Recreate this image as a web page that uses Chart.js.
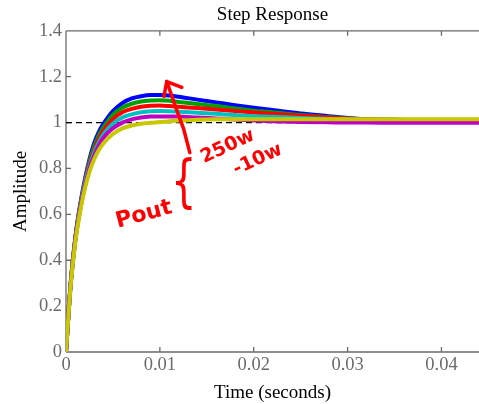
<!DOCTYPE html>
<html>
<head>
<meta charset="utf-8">
<script src="https://cdn.jsdelivr.net/npm/chart.js@4/dist/chart.umd.min.js"></script>
<style>
html,body{margin:0;padding:0;background:#fff;}
#wrap{width:479px;height:404px;position:relative;}
</style>
</head>
<body>
<div id="wrap"><canvas id="c" width="479" height="404"></canvas></div>
<script>
// ---- data ----
const time = [0, 0.0005, 0.001, 0.0015, 0.002, 0.0025, 0.003, 0.0035, 0.004, 0.005, 0.006, 0.007, 0.008, 0.009, 0.010, 0.011, 0.012, 0.014, 0.016, 0.018, 0.020, 0.022, 0.025, 0.028, 0.030, 0.032, 0.035, 0.040, 0.044];
const blueResp    = [0, 0.30, 0.50, 0.64, 0.75, 0.84, 0.91, 0.96, 0.995, 1.05, 1.085, 1.105, 1.115, 1.12, 1.12, 1.118, 1.113, 1.10, 1.088, 1.076, 1.065, 1.055, 1.04, 1.028, 1.02, 1.015, 1.012, 1.01, 1.01];
const greenResp   = [0, 0.30, 0.50, 0.635, 0.74, 0.83, 0.895, 0.945, 0.98, 1.035, 1.065, 1.082, 1.092, 1.096, 1.097, 1.095, 1.09, 1.081, 1.072, 1.061, 1.052, 1.045, 1.033, 1.024, 1.018, 1.014, 1.012, 1.01, 1.01];
const redResp     = [0, 0.30, 0.495, 0.63, 0.735, 0.82, 0.88, 0.93, 0.965, 1.015, 1.045, 1.06, 1.069, 1.073, 1.074, 1.072, 1.069, 1.063, 1.057, 1.05, 1.044, 1.038, 1.03, 1.022, 1.018, 1.014, 1.012, 1.01, 1.01];
const cyanResp    = [0, 0.295, 0.49, 0.625, 0.73, 0.81, 0.87, 0.915, 0.95, 0.995, 1.022, 1.036, 1.045, 1.049, 1.05, 1.049, 1.047, 1.043, 1.038, 1.033, 1.028, 1.025, 1.02, 1.016, 1.014, 1.012, 1.011, 1.01, 1.01];
const magentaResp = [0, 0.295, 0.49, 0.62, 0.72, 0.80, 0.855, 0.90, 0.935, 0.975, 1.0, 1.014, 1.022, 1.026, 1.027, 1.027, 1.026, 1.022, 1.018, 1.013, 1.009, 1.006, 1.003, 1.001, 1.0, 1.0, 0.999, 0.999, 0.999];
const yellowResp  = [0, 0.29, 0.48, 0.61, 0.71, 0.785, 0.84, 0.88, 0.91, 0.95, 0.975, 0.987, 0.995, 0.999, 1.002, 1.006, 1.009, 1.012, 1.014, 1.015, 1.015, 1.015, 1.015, 1.015, 1.015, 1.015, 1.015, 1.015, 1.015];
const steadyX = [0, 0.044];
const steadyY = [1, 1];
const xTicks = [0, 0.01, 0.02, 0.03, 0.04];
const xTickLabels = ['0', '0.01', '0.02', '0.03', '0.04'];
const yTicks = [0, 0.2, 0.4, 0.6, 0.8, 1, 1.2, 1.4];
const yTickLabels = ['0', '0.2', '0.4', '0.6', '0.8', '1', '1.2', '1.4'];
const titleText = 'Step Response';
const xTitle = 'Time (seconds)';
const yTitle = 'Amplitude';
// hand-written annotation (data units)
const arrowShaftX = [0.01319, 0.01255, 0.01170, 0.01074];
const arrowShaftY = [0.869, 0.970, 1.065, 1.179];
const arrowBarbX = [0.01043, 0.01074, 0.01234];
const arrowBarbY = [1.114, 1.179, 1.153];
const noteTexts = ['250w', '-10w', 'Pout', '{'];
const noteX = [0.01723, 0.02043, 0.0083, 0.01255];
const noteY = [0.895, 0.838, 0.598, 0.725];

const pts = (xs, ys) => xs.map((x, i) => ({x: x, y: ys[i]}));
const serif = "'Liberation Serif', 'Times New Roman', serif";
const AXIS_COLOR = '#6a6a6a';

function curve(label, ys, color, order) {
  return {label, data: pts(time, ys), borderColor: color, backgroundColor: color,
    borderWidth: 4, pointRadius: 0, cubicInterpolationMode: 'monotone', fill: false, order};
}

const axesPlugin = {
  id: 'matlabAxes',
  beforeDatasetsDraw(chart) {
    const {ctx, chartArea: a, scales: {x, y}} = chart;
    ctx.save();
    ctx.strokeStyle = AXIS_COLOR;
    ctx.lineWidth = 1.3;
    ctx.beginPath();
    ctx.moveTo(a.left, a.top); ctx.lineTo(a.right + 1, a.top);
    ctx.moveTo(a.left, a.top); ctx.lineTo(a.left, a.bottom);
    ctx.moveTo(a.left, a.bottom); ctx.lineTo(a.right + 1, a.bottom);
    const tl = 5;
    xTicks.forEach(v => {
      const px = x.getPixelForValue(v);
      ctx.moveTo(px, a.bottom); ctx.lineTo(px, a.bottom - tl);
      ctx.moveTo(px, a.top); ctx.lineTo(px, a.top + tl);
    });
    yTicks.forEach(v => {
      const py = y.getPixelForValue(v);
      ctx.moveTo(a.left, py); ctx.lineTo(a.left + tl, py);
    });
    ctx.stroke();
    ctx.restore();
  },
  afterDraw(chart) {
    const {ctx, scales: {x, y}} = chart;
    ctx.save();
    ctx.strokeStyle = '#ff0000';
    ctx.fillStyle = '#ff0000';
    ctx.lineWidth = 3.5;
    ctx.lineCap = 'round';
    ctx.lineJoin = 'round';
    ctx.beginPath();
    arrowShaftX.forEach((v, i) => {
      const px = x.getPixelForValue(v), py = y.getPixelForValue(arrowShaftY[i]);
      if (i === 0) ctx.moveTo(px, py); else ctx.lineTo(px, py);
    });
    ctx.stroke();
    ctx.beginPath();
    arrowBarbX.forEach((v, i) => {
      const px = x.getPixelForValue(v), py = y.getPixelForValue(arrowBarbY[i]);
      if (i === 0) ctx.moveTo(px, py); else ctx.lineTo(px, py);
    });
    ctx.stroke();
    const fonts = ["bold 19px 'DejaVu Sans'", "bold 19px 'DejaVu Sans'", "bold 22px 'DejaVu Sans'", "40px 'DejaVu Sans'"];
    const rots = [-25, -25, -15, 0];
    const scaleY = [1, 1, 1, 1.4];
    noteTexts.forEach((t, i) => {
      ctx.save();
      ctx.translate(x.getPixelForValue(noteX[i]), y.getPixelForValue(noteY[i]));
      ctx.rotate(rots[i] * Math.PI / 180);
      ctx.scale(1, scaleY[i]);
      ctx.font = fonts[i];
      ctx.textAlign = 'center';
      ctx.textBaseline = 'middle';
      ctx.fillText(t, 0, 0);
      ctx.restore();
    });
    ctx.restore();
  }
};

new Chart(document.getElementById('c'), {
  type: 'line',
  data: {
    datasets: [
      {label: 'steady', data: pts(steadyX, steadyY), borderColor: '#000', borderWidth: 1.3,
        borderDash: [6, 4], pointRadius: 0, fill: false, order: 10},
      curve('b', blueResp, '#0000ff', 6),
      curve('g', greenResp, '#00a000', 5),
      curve('r', redResp, '#ff0000', 4),
      curve('c', cyanResp, '#00c0c0', 3),
      curve('m', magentaResp, '#c000c0', 2),
      curve('y', yellowResp, '#c8c800', 1)
    ]
  },
  options: {
    responsive: false,
    animation: false,
    layout: {padding: {left: 0, right: 0, top: 0, bottom: 0}},
    plugins: {
      legend: {display: false},
      tooltip: {enabled: false},
      title: {display: true, text: titleText, fullSize: false, color: '#000',
        font: {family: serif, size: 19, weight: 'normal'}, padding: {top: 4, bottom: 4}}
    },
    scales: {
      x: {
        type: 'linear', min: 0, max: 0.044,
        afterBuildTicks: s => { s.ticks = xTicks.map(v => ({value: v})); },
        afterFit: s => { s.height = 52; },
        grid: {display: false, drawTicks: false},
        border: {display: false},
        ticks: {color: AXIS_COLOR, font: {family: serif, size: 18.5}, padding: 2, maxRotation: 0,
          autoSkip: false, callback: (v, i) => xTickLabels[i]},
        title: {display: true, text: xTitle, color: '#000', font: {family: serif, size: 19},
          padding: {top: 2, bottom: 0}}
      },
      y: {
        type: 'linear', min: 0, max: 1.4,
        afterBuildTicks: s => { s.ticks = yTicks.map(v => ({value: v})); },
        afterFit: s => { s.width = 66; },
        grid: {display: false, drawTicks: false},
        border: {display: false},
        ticks: {color: AXIS_COLOR, font: {family: serif, size: 18.5}, padding: 4,
          autoSkip: false, callback: (v, i) => yTickLabels[i]},
        title: {display: true, text: yTitle, color: '#000', font: {family: serif, size: 19},
          padding: {top: 10, bottom: 0}}
      }
    }
  },
  plugins: [axesPlugin]
});
</script>
</body>
</html>
